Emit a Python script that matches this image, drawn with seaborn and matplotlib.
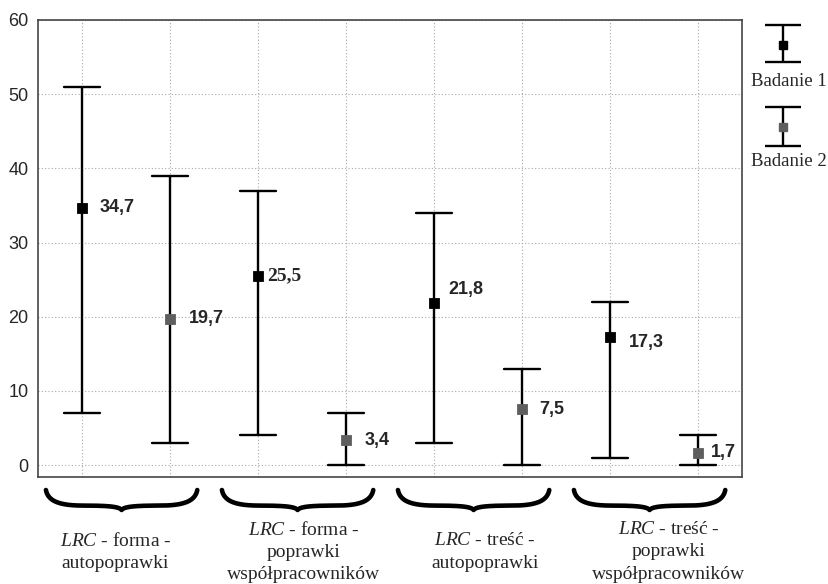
import numpy as np
import pandas as pd
import matplotlib
matplotlib.use("Agg")
import matplotlib.pyplot as plt
import matplotlib.transforms as mtransforms
import seaborn as sns

# ---------------- data ----------------
groups = ["forma -\nautopoprawki", "forma -\npoprawki\nwspółpracowników",
          "treść -\nautopoprawki", "treść -\npoprawki\nwspółpracowników"]
series = ["Badanie 1", "Badanie 2"]
b1_mean = [34.7, 25.5, 21.8, 17.3]
b1_lo = [7, 4, 3, 1]
b1_hi = [51, 37, 34, 22]
b2_mean = [19.7, 3.4, 7.5, 1.7]
b2_lo = [3, 0, 0, 0]
b2_hi = [39, 7, 13, 4]
y_ticks = [0, 10, 20, 30, 40, 50, 60]

# ---------------- styling ----------------
sns.set_style("white")
plt.rcParams["font.family"] = ["Liberation Sans", "DejaVu Sans"]
plt.rcParams["mathtext.fontset"] = "custom"
plt.rcParams["mathtext.rm"] = "Liberation Serif"
plt.rcParams["mathtext.it"] = "Liberation Serif:italic"

# build long table: each point has lo / mean / hi rows -> median = mean, min/max = whiskers
rows = []
order = []
for gi, g in enumerate(groups):
    for s, m, lo, hi in [(series[0], b1_mean[gi], b1_lo[gi], b1_hi[gi]),
                         (series[1], b2_mean[gi], b2_lo[gi], b2_hi[gi])]:
        key = f"{gi}-{s}"
        order.append(key)
        for v in (lo, m, hi):
            rows.append({"pos": key, "seria": s, "val": v})
df = pd.DataFrame(rows)

fig = plt.figure(figsize=(8.29, 5.84), dpi=100)
ax = fig.add_axes([38 / 829, 1 - 477 / 584, (742 - 38) / 829, (477 - 20) / 584])

sns.pointplot(data=df, x="pos", y="val", hue="seria", order=order,
              hue_order=series, palette=["#000000", "#5e5e5e"],
              estimator="median", errorbar=lambda v: (v.min(), v.max()),
              linestyle="none", markers="s", markersize=6.3, capsize=0.41,
              dodge=False, legend=False, zorder=3,
              err_kws={"color": "black", "linewidth": 1.7, "zorder": 2},
              ax=ax)

ax.set_xlim(-0.5, 7.5)
ax.set_ylim(-1.6, 60)
ax.set_yticks(y_ticks)
ax.set_yticklabels([str(t) for t in y_ticks], fontsize=13)
ax.set_xticks(range(len(order)))
ax.set_xticklabels([""] * len(order))
ax.set_xlabel("")
ax.set_ylabel("")
ax.tick_params(axis="both", length=0, pad=7)
ax.grid(True, color="#a8a8a8", linestyle=(0, (1, 2)), linewidth=0.8)
ax.set_axisbelow(True)
for sp in ax.spines.values():
    sp.set_visible(True)
    sp.set_color("#454545")
    sp.set_linewidth(1.2)

# value labels
label_offsets_px = [(18, 0), (19, 0), (9, 0), (19, -1), (14, 14), (17, 0), (19, -6), (13, 0)]
means = []
for gi in range(len(groups)):
    means += [b1_mean[gi], b2_mean[gi]]
for i, m in enumerate(means):
    dx, dy = label_offsets_px[i]
    txt = f"{m:.1f}".replace(".", ",")
    kw = dict(fontsize=13, fontweight="bold")
    if i == 2:
        kw = dict(fontsize=14, fontweight="bold", family="Liberation Serif")
    ax.annotate(txt, (i, m), xytext=(dx * 0.72, dy * 0.72), textcoords="offset points",
                ha="left", va="center", **kw)

# curly braces and group labels under the axis
btrans = mtransforms.blended_transform_factory(ax.transData, fig.transFigure)


def bez(p0, p1, p2, p3, n=40):
    t = np.linspace(0, 1, n)[:, None]
    p0, p1, p2, p3 = map(np.array, (p0, p1, p2, p3))
    return (1 - t) ** 3 * p0 + 3 * (1 - t) ** 2 * t * p1 + 3 * (1 - t) * t ** 2 * p2 + t ** 3 * p3


left = np.vstack([bez((-1, 0), (-0.97, 0.6), (-0.8, 0.78), (-0.5, 0.78)),
                  bez((-0.5, 0.78), (-0.2, 0.78), (-0.03, 0.82), (0, 1.0))])
right = left[::-1].copy()
right[:, 0] *= -1
brace = np.vstack([left, right])

top = 1 - 490 / 584
height = 20 / 584
label_dx = [-0.12, 0.02, 0.08, 0.17]
for gi, g in enumerate(groups):
    c = 2 * gi + 0.5 - 0.05
    hw = 0.86
    ax.plot(c + brace[:, 0] * hw, top - brace[:, 1] * height, color="black",
            linewidth=3.3, solid_capstyle="round", transform=btrans, clip_on=False)
    ax.text(c + 0.05 + label_dx[gi], 1 - 552 / 584, r"$\mathit{LRC}$ - " + g,
            transform=btrans, ha="center", va="center", multialignment="center",
            family="Liberation Serif", fontsize=14, linespacing=1.4)

# legend (drawn at right, outside the plot)
lax = fig.add_axes([0, 0, 1, 1])
lax.set_xlim(0, 829)
lax.set_ylim(584, 0)
lax.axis("off")
leg_items = [(series[0], "#000000", 25, 45, 62, 82), (series[1], "#5e5e5e", 107, 127, 146, 162)]
for name, col, y_top, y_mid, y_bot, y_txt in leg_items:
    lax.errorbar([783], [y_mid], yerr=[[y_mid - y_top], [y_bot - y_mid]], fmt="none",
                 ecolor="black", elinewidth=1.7, capsize=13, capthick=1.7, zorder=2)
    lax.plot([783], [y_mid], marker="s", markersize=6.3, color=col, linestyle="none", zorder=3)
    lax.text(789, y_txt, name, ha="center", va="center", family="Liberation Serif",
             fontsize=13.5)

fig.savefig("out.png", dpi=100)
